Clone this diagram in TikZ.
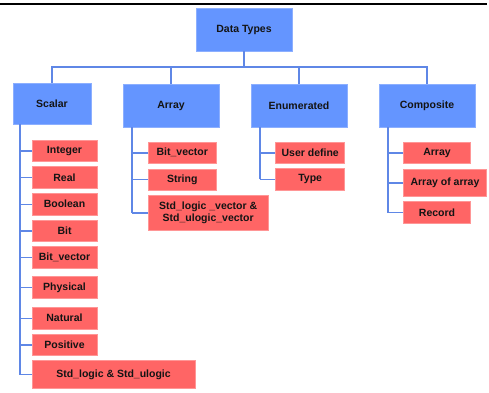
\documentclass[tikz,border=0pt]{standalone}
\usepackage{fontspec}
\setmainfont{Liberation Sans}
\definecolor{bluefill}{RGB}{100,149,255}
\definecolor{blueedge}{RGB}{140,175,255}
\definecolor{redfill}{RGB}{255,101,101}
\definecolor{rededge}{RGB}{255,150,150}
\definecolor{linkcol}{RGB}{95,135,230}
\definecolor{txt}{RGB}{20,20,20}
\tikzset{
  headbox/.style={draw=blueedge, fill=bluefill, line width=0.6pt, inner sep=0pt,
    text=txt, font=\fontsize{10.5}{12}\selectfont\bfseries, align=center},
  leafbox/.style={draw=rededge, fill=redfill, line width=0.6pt, inner sep=0pt,
    text=txt, font=\fontsize{10.5}{11.5}\selectfont\bfseries, align=center},
  link/.style={draw=linkcol, line width=1.4pt},
  trunk/.style={draw=linkcol, line width=1.8pt},
}
\begin{document}
\begin{tikzpicture}[x=1pt,y=-1pt]
\useasboundingbox (0,0) rectangle (489,392);
\draw[line width=2.4pt, black] (0,4) -- (487,4);

\node[headbox, minimum width=96pt, minimum height=43pt] (dt) at (244,29.5) {Data Types};
\node[headbox, minimum width=78pt, minimum height=41pt] (scalar) at (52,103.5) {Scalar};
\node[headbox, minimum width=96pt, minimum height=43pt] (array) at (171,105.5) {Array};
\node[headbox, minimum width=96pt, minimum height=43pt] (enum) at (299,105.5) {Enumerated};
\node[headbox, minimum width=96pt, minimum height=43pt] (comp) at (427,105.5) {Composite};

% scalar children
\node[leafbox, minimum width=65pt, minimum height=21.7pt] (integer) at (64.5,150.8) {Integer};
\node[leafbox, minimum width=65pt, minimum height=21.7pt] (real) at (64.5,177.5) {Real};
\node[leafbox, minimum width=65pt, minimum height=21.7pt] (boolean) at (64.5,204.2) {Boolean};
\node[leafbox, minimum width=65pt, minimum height=21.7pt] (bit) at (64.5,230.8) {Bit};
\node[leafbox, minimum width=65pt, minimum height=21.7pt] (bitvec) at (64.5,257.5) {Bit\_vector};
\node[leafbox, minimum width=65pt, minimum height=21.7pt] (physical) at (64.5,287.5) {Physical};
\node[leafbox, minimum width=65pt, minimum height=21.7pt] (natural) at (64.5,318.2) {Natural};
\node[leafbox, minimum width=65pt, minimum height=21.7pt] (positive) at (64.5,344.8) {Positive};
\node[leafbox, minimum width=163pt, minimum height=27.6pt] (stdlogic) at (113.5,374.5) {Std\_logic \& Std\_ulogic};

% array children
\node[leafbox, minimum width=68.7pt, minimum height=21pt] (abitvec) at (182.3,152.8) {Bit\_vector};
\node[leafbox, minimum width=68.7pt, minimum height=21pt] (string) at (182.3,179.5) {String};
\node[leafbox, minimum width=120.3pt, minimum height=34.3pt] (stdvec) at (208.2,212.8) {Std\_logic \_vector \&\\Std\_ulogic\_vector};

% enumerated children
\node[leafbox, minimum width=69pt, minimum height=21pt] (userdef) at (310.2,152.8) {User define};
\node[leafbox, minimum width=69pt, minimum height=21.3pt] (type) at (310.2,179.3) {Type};

% composite children
\node[leafbox, minimum width=67.4pt, minimum height=21pt] (carray) at (437,152.8) {Array};
\node[leafbox, minimum width=83.4pt, minimum height=27.7pt] (carrarr) at (445,182.8) {Array of array};
\node[leafbox, minimum width=67.4pt, minimum height=21.6pt] (record) at (437,212.5) {Record};

% top connectors
\coordinate (bus) at (0,67);
\draw[link] (dt.south) -- (dt.south |- bus);
\draw[link] (scalar.north) |- (comp.north |- bus) -- (comp.north);
\draw[link] (array.north) -- (array.north |- bus);
\draw[link] (enum.north) -- (enum.north |- bus);

% scalar tree
\coordinate (st) at ([xshift=7pt]scalar.south west);
\draw[trunk] (st) -- (st |- stdlogic.west);
\foreach \c in {integer,real,boolean,bit,bitvec,physical,natural,positive,stdlogic}
  \draw[link] (st |- \c.west) -- (\c.west);

% array tree
\coordinate (at) at ([xshift=9pt]array.south west);
\draw[trunk] (at) -- (at |- stdvec.west);
\foreach \c in {abitvec,string,stdvec}
  \draw[link] (at |- \c.west) -- (\c.west);

% enumerated tree
\coordinate (et) at ([xshift=9pt]enum.south west);
\draw[trunk] (et) -- (et |- type.west);
\foreach \c in {userdef,type}
  \draw[link] (et |- \c.west) -- (\c.west);

% composite tree
\coordinate (ct) at ([xshift=9pt]comp.south west);
\draw[trunk] (ct) -- (ct |- record.west);
\foreach \c in {carray,carrarr,record}
  \draw[link] (ct |- \c.west) -- (\c.west);
\end{tikzpicture}
\end{document}
